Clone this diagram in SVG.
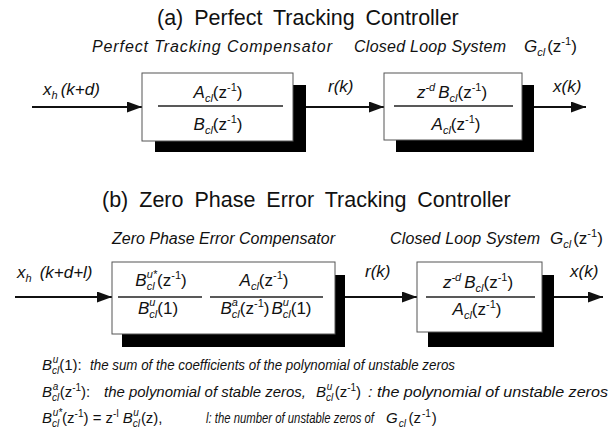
<svg xmlns="http://www.w3.org/2000/svg" width="611" height="448" viewBox="0 0 611 448">
<style>
text{font-family:"Liberation Sans",Arial,sans-serif;fill:#111}
.ti{font-size:21.5px;word-spacing:5px}
.lb{font-size:16px;font-style:italic}
.m{font-size:17px}
.fn{font-size:15px;font-style:italic}
.i{font-style:italic}
.n{font-style:normal}
.s{font-size:11px}
.fs{font-size:10px}
.box{fill:#fff;stroke:#555;stroke-width:1}
.sh{fill:#000}
.wire{stroke:#111;stroke-width:2;fill:none;marker-end:url(#ah)}
.frac{stroke:#222;stroke-width:1.5}
</style>
<defs>
<marker id="ah" markerUnits="userSpaceOnUse" markerWidth="15" markerHeight="11" refX="15" refY="5.5" orient="auto">
<path d="M0,0 L15,5.5 L0,11 z" fill="#111"/>
</marker>
</defs>

<text class="ti" x="157" y="25">(a) Perfect Tracking Controller</text>
<text class="lb" x="92" y="52" textLength="240" lengthAdjust="spacing">Perfect Tracking Compensator</text>
<text class="lb" x="354" y="52" textLength="152" lengthAdjust="spacing">Closed Loop System</text>
<text class="m" x="524" y="52"><tspan class="i">G</tspan><tspan class="s i" dy="4">cl</tspan><tspan dy="-4" dx="2">(z</tspan><tspan class="s" dy="-7">-1</tspan><tspan dy="7">)</tspan></text>

<g id="connectors">
<line class="wire" x1="32" y1="107" x2="142" y2="107"/>
<line class="wire" x1="305" y1="107" x2="384" y2="107"/>
<line class="wire" x1="534" y1="107" x2="586" y2="107"/>
<line class="wire" x1="15" y1="297" x2="112" y2="297"/>
<line class="wire" x1="345" y1="297" x2="417" y2="297"/>
<line class="wire" x1="554" y1="297" x2="603" y2="297"/>
</g>

<g id="labels">
<text class="m" x="43" y="95"><tspan class="i">x</tspan><tspan class="s i" dy="4">h</tspan><tspan class="i" dy="-4" dx="3">(k+d)</tspan></text>
<text class="m i" x="328" y="92">r(k)</text>
<text class="m i" x="553" y="92">x(k)</text>
<text class="m" x="17" y="278"><tspan class="i">x</tspan><tspan class="s i" dy="4">h</tspan><tspan class="i" dy="-4" dx="8">(k+d+l)</tspan></text>
<text class="m i" x="365" y="277">r(k)</text>
<text class="m i" x="570" y="277">x(k)</text>
</g>

<g id="ptc">
<rect class="sh" x="155" y="85" width="151" height="67"/>
<rect class="box" x="142" y="73" width="151" height="68"/>
<line class="frac" x1="158" y1="106" x2="283" y2="106"/>
<text class="m" x="218" y="98" text-anchor="middle"><tspan class="i">A</tspan><tspan class="s i" dy="4">cl</tspan><tspan dy="-4">(z</tspan><tspan class="s" dy="-7">-1</tspan><tspan dy="7">)</tspan></text>
<text class="m" x="218" y="130" text-anchor="middle"><tspan class="i">B</tspan><tspan class="s i" dy="4">cl</tspan><tspan dy="-4">(z</tspan><tspan class="s" dy="-7">-1</tspan><tspan dy="7">)</tspan></text>
</g>

<g id="cls-a">
<rect class="sh" x="396" y="85" width="138" height="67"/>
<rect class="box" x="384" y="73" width="138" height="67"/>
<line class="frac" x1="394" y1="106" x2="513" y2="106"/>
<text class="m" x="452" y="98" text-anchor="middle"><tspan class="i">z</tspan><tspan class="s i" dy="-7">-d</tspan><tspan class="i" dy="7" dx="3">B</tspan><tspan class="s i" dy="4">cl</tspan><tspan dy="-4">(z</tspan><tspan class="s" dy="-7">-1</tspan><tspan dy="7">)</tspan></text>
<text class="m" x="456" y="130" text-anchor="middle"><tspan class="i">A</tspan><tspan class="s i" dy="4">cl</tspan><tspan dy="-4">(z</tspan><tspan class="s" dy="-7">-1</tspan><tspan dy="7">)</tspan></text>
</g>

<text class="ti" x="102" y="207">(b) Zero Phase Error Tracking Controller</text>
<text class="lb" x="112" y="244" textLength="223" lengthAdjust="spacing">Zero Phase Error Compensator</text>
<text class="lb" x="390" y="244" textLength="150" lengthAdjust="spacing">Closed Loop System</text>
<text class="m" x="550" y="244"><tspan class="i">G</tspan><tspan class="s i" dy="4">cl</tspan><tspan dy="-4" dx="2">(z</tspan><tspan class="s" dy="-7">-1</tspan><tspan dy="7">)</tspan></text>

<g id="zpec">
<rect class="sh" x="122" y="275" width="223" height="72"/>
<rect class="box" x="112" y="262" width="223" height="72"/>
<line class="frac" x1="118" y1="297" x2="202" y2="297"/>
<line class="frac" x1="210" y1="297" x2="323" y2="297"/>
<text class="m" x="161" y="286" text-anchor="middle"><tspan class="i">B</tspan><tspan class="s i" dy="4">cl</tspan><tspan class="s i" dx="-7.9" dy="-12">u*</tspan><tspan dy="8">(z</tspan><tspan class="s" dy="-7">-1</tspan><tspan dy="7">)</tspan></text>
<text class="m" x="158" y="314" text-anchor="middle"><tspan class="i">B</tspan><tspan class="s i" dy="4">cl</tspan><tspan class="s i" dx="-7.9" dy="-12">u</tspan><tspan dx="1.8" dy="8">(1)</tspan></text>
<text class="m" x="264" y="286" text-anchor="middle"><tspan class="i">A</tspan><tspan class="s i" dy="4">cl</tspan><tspan dy="-4">(z</tspan><tspan class="s" dy="-7">-1</tspan><tspan dy="7">)</tspan></text>
<text class="m" x="266" y="314" text-anchor="middle"><tspan class="i">B</tspan><tspan class="s i" dy="4">cl</tspan><tspan class="s i" dx="-7.9" dy="-12">a</tspan><tspan dx="1.8" dy="8">(z</tspan><tspan class="s" dy="-7">-1</tspan><tspan dy="7">)</tspan><tspan class="i" dx="2">B</tspan><tspan class="s i" dy="4">cl</tspan><tspan class="s i" dx="-7.9" dy="-12">u</tspan><tspan dx="1.8" dy="8">(1)</tspan></text>
</g>

<g id="cls-b">
<rect class="sh" x="428" y="275" width="126" height="72"/>
<rect class="box" x="417" y="262" width="125" height="70"/>
<line class="frac" x1="426" y1="297" x2="535" y2="297"/>
<text class="m" x="478" y="288" text-anchor="middle"><tspan class="i">z</tspan><tspan class="s i" dy="-7">-d</tspan><tspan class="i" dy="7" dx="3">B</tspan><tspan class="s i" dy="4">cl</tspan><tspan dy="-4">(z</tspan><tspan class="s" dy="-7">-1</tspan><tspan dy="7">)</tspan></text>
<text class="m" x="477" y="315" text-anchor="middle"><tspan class="i">A</tspan><tspan class="s i" dy="4">cl</tspan><tspan dy="-4">(z</tspan><tspan class="s" dy="-7">-1</tspan><tspan dy="7">)</tspan></text>
</g>

<g id="notes">
<text class="fn" x="42" y="370"><tspan>B</tspan><tspan class="fs" dy="4">cl</tspan><tspan class="fs" dx="-6.6" dy="-11">u</tspan><tspan class="n" dx="1" dy="7">(1):</tspan></text>
<text class="fn" x="90" y="370" textLength="365" lengthAdjust="spacingAndGlyphs">the sum of the coefficients of the polynomial of unstable zeros</text>

<text class="fn" x="42" y="397"><tspan>B</tspan><tspan class="fs" dy="4">cl</tspan><tspan class="fs" dx="-6.6" dy="-11">a</tspan><tspan class="n" dx="1.5" dy="7">(z</tspan><tspan class="fs n" dy="-6">-1</tspan><tspan class="n" dy="6">):</tspan></text>
<text class="fn" x="104" y="397" textLength="202" lengthAdjust="spacingAndGlyphs">the polynomial of stable zeros,</text>
<text class="fn" x="316" y="397"><tspan>B</tspan><tspan class="fs" dy="4">cl</tspan><tspan class="fs" dx="-6.6" dy="-11">u</tspan><tspan class="n" dx="2.5" dy="7">(z</tspan><tspan class="fs n" dy="-6">-1</tspan><tspan class="n" dy="6">)</tspan></text>
<text class="fn" x="368" y="397" textLength="240" lengthAdjust="spacingAndGlyphs">: the polynomial of unstable zeros</text>

<text class="fn" x="42" y="423"><tspan>B</tspan><tspan class="fs" dy="4">cl</tspan><tspan class="fs" dx="-6.6" dy="-11">u*</tspan><tspan class="n" dy="7">(z</tspan><tspan class="fs n" dy="-6">-1</tspan><tspan class="n" dy="6">) = z</tspan><tspan class="fs n" dy="-6">-l</tspan><tspan dx="4" dy="6">B</tspan><tspan class="fs" dy="4">cl</tspan><tspan class="fs" dx="-6.6" dy="-11">u</tspan><tspan class="n" dx="2" dy="7">(z),</tspan></text>
<text class="fn" x="206" y="423" textLength="168" lengthAdjust="spacingAndGlyphs">l: the number of unstable zeros of</text>
<text class="fn" x="386" y="423"><tspan>G</tspan><tspan class="fs" dx="1" dy="4">cl</tspan><tspan class="n" dy="-4" dx="2.5">(z</tspan><tspan class="fs n" dx="1" dy="-6">-1</tspan><tspan class="n" dx="1" dy="6">)</tspan></text>
</g>
</svg>
